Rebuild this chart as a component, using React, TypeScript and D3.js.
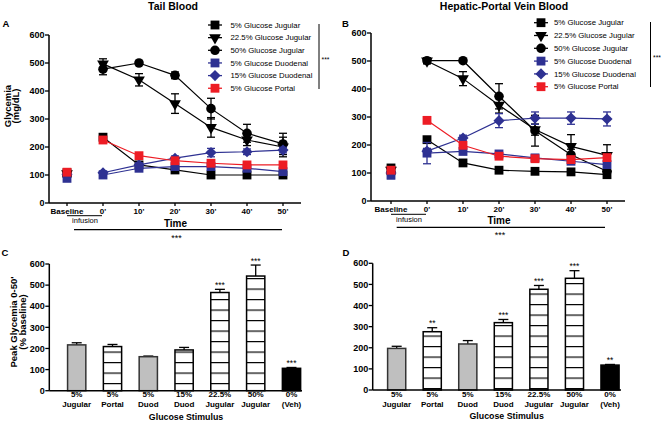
import React from "react";
import * as d3 from "d3";

// ---- data ----
const timePoints = ["Baseline", "0'", "10'", "20'", "30'", "40'", "50'"];
const seriesNames = [
  "5% Glucose Jugular",
  "22.5% Glucose Jugular",
  "50% Glucose Jugular",
  "5% Glucose Duodenal",
  "15% Glucose Duodenal",
  "5% Glucose Portal",
];

// Panel A - tail blood (mg/dL), mean and SEM
const tailJug5 = [108, 235, 136, 118, 100, 100, 100];
const tailJug22 = [105, 497, 440, 355, 270, 225, 200];
const tailJug50 = [97, 478, 500, 456, 337, 249, 211];
const tailDuod5 = [88, 100, 124, 130, 130, 124, 112];
const tailDuod15 = [103, 108, 136, 160, 180, 183, 189];
const tailPortal5 = [110, 225, 169, 151, 142, 136, 136];
const tailJug5Sem = [10, 8, 6, 6, 6, 5, 5];
const tailJug22Sem = [12, 18, 22, 35, 35, 20, 35];
const tailJug50Sem = [10, 20, 5, 12, 37, 32, 38];
const tailDuod5Sem = [10, 6, 8, 8, 8, 8, 8];
const tailDuod15Sem = [8, 6, 8, 8, 15, 10, 10];
const tailPortal5Sem = [10, 12, 10, 8, 8, 8, 8];

// Panel B - hepatic-portal vein blood (mg/dL)
const hpvJug5 = [118, 219, 136, 110, 106, 104, 94];
const hpvJug22 = [110, 500, 437, 342, 255, 195, 163];
const hpvJug50 = [100, 501, 501, 374, 251, 165, 106];
const hpvDuod5 = [92, 171, 177, 168, 154, 142, 130];
const hpvDuod15 = [100, 178, 225, 287, 296, 296, 293];
const hpvPortal5 = [110, 288, 199, 160, 151, 148, 155];
const hpvJug5Sem = [10, 10, 8, 6, 6, 6, 6];
const hpvJug22Sem = [10, 10, 25, 28, 20, 42, 38];
const hpvJug50Sem = [10, 10, 5, 45, 55, 20, 15];
const hpvDuod5Sem = [12, 38, 10, 8, 8, 8, 10];
const hpvDuod15Sem = [10, 10, 10, 25, 22, 22, 25];
const hpvPortal5Sem = [10, 10, 10, 8, 8, 8, 8];

// Panels C/D - peak glycemia (% baseline)
const stimulusTop = ["5%", "5%", "5%", "15%", "22.5%", "50%", "0%"];
const stimulusBottom = ["Jugular", "Portal", "Duod", "Duod", "Jugular", "Jugular", "(Veh)"];
const peakTail = [217, 209, 161, 193, 465, 543, 106];
const peakTailSem = [10, 10, 3, 12, 15, 52, 4];
const peakTailStars = ["", "", "", "", "***", "***", "***"];
const peakHpv = [197, 276, 218, 319, 477, 529, 118];
const peakHpvSem = [10, 19, 16, 15, 18, 36, 3];
const peakHpvStars = ["", "**", "", "***", "***", "***", "**"];

const yTicks = [0, 100, 200, 300, 400, 500, 600];

// ---- styles ----
const FONT = "'Liberation Sans', Arial, Helvetica, sans-serif";
const BLUE = "#2e3192";
const RED = "#ed1c24";
const seriesColors = ["#000", "#000", "#000", BLUE, BLUE, RED];
const seriesSymbols = ["square", "triangle", "circle", "square", "diamond", "square"];
const barKinds = ["gray", "hatch", "gray", "hatch", "hatch", "hatch", "black"];

function symbolD(kind: string) {
  if (kind === "square") return d3.symbol(d3.symbolSquare, 78)()!;
  if (kind === "circle") return d3.symbol(d3.symbolCircle, 72)()!;
  if (kind === "triangle") return d3.symbol(d3.symbolTriangle, 60)()!;
  return d3.symbol(d3.symbolSquare, 62)()!;
}
function symbolRot(kind: string) {
  if (kind === "triangle") return 180;
  if (kind === "diamond") return 45;
  return 0;
}

function Marker({ kind, x, y, color }: any) {
  return (
    <path
      d={symbolD(kind)}
      transform={`translate(${x},${y}) rotate(${symbolRot(kind)})`}
      fill={color}
    />
  );
}

function LinePanel({ p, means, sems }: any) {
  const x = d3.scalePoint<string>().domain(timePoints).range([p.rangeStart, p.rangeEnd]).padding(0.5);
  const y = d3.scaleLinear().domain([0, 600]).range([p.yBottom, p.yTop]);
  const line = d3
    .line<number>()
    .x((_, i) => x(timePoints[i + 1])!)
    .y((d) => y(d));

  return (
    <g fontFamily={FONT}>
      <text x={p.titleX} y={10} textAnchor="middle" fontWeight="bold" fontSize={10.5}>
        {p.title}
      </text>
      <text x={p.letterX} y={27.3} fontWeight="bold" fontSize={9.5}>
        {p.letter}
      </text>
      {p.yLabel && (
        <g fontWeight="bold" fontSize={9.5} textAnchor="middle">
          <text transform={`translate(10.5,106) rotate(-90)`}>Glycemia</text>
          <text transform={`translate(18.5,106) rotate(-90)`}>(mg/dL)</text>
        </g>
      )}

      {/* axes */}
      <line x1={p.axisX} x2={p.axisX} y1={p.yTop} y2={p.yBottom} stroke="#000" strokeWidth={1.5} />
      <line x1={p.axisX} x2={p.rangeEnd} y1={p.yBottom} y2={p.yBottom} stroke="#000" strokeWidth={1.5} />
      {yTicks.map((t) => (
        <g key={t}>
          <line x1={p.axisX - 4} x2={p.axisX} y1={y(t)} y2={y(t)} stroke="#000" strokeWidth={1.3} />
          <text x={p.axisX - 4.5} y={y(t)} dy="0.35em" textAnchor="end" fontSize={9} fontWeight="bold">
            {t}
          </text>
        </g>
      ))}
      {timePoints.map((t) => (
        <g key={t}>
          <line x1={x(t)} x2={x(t)} y1={p.yBottom} y2={p.yBottom + 3} stroke="#000" strokeWidth={1.3} />
          <text x={x(t)} y={p.xLabelY} textAnchor="middle" fontSize={8} fontWeight="bold">
            {t}
          </text>
        </g>
      ))}

      {/* infusion + time annotation */}
      <line x1={x(timePoints[0])} x2={x(timePoints[1])! - 1} y1={p.infY} y2={p.infY} stroke="#000" strokeWidth={1} />
      <text x={(x(timePoints[0])! + x(timePoints[1])!) / 2} y={p.infY + 7.5} textAnchor="middle" fontSize={7.5}>
        infusion
      </text>
      <text x={p.timeX} y={p.timeY} textAnchor="middle" fontSize={10} fontWeight="bold">
        Time
      </text>
      <line x1={p.longX1} x2={p.longX2} y1={p.timeY + 3} y2={p.timeY + 3} stroke="#000" strokeWidth={1.2} />
      <text x={p.timeX + 1} y={p.timeY + 14} textAnchor="middle" fontSize={9}>
        ***
      </text>

      {/* series */}
      {means.map((m: number[], si: number) => {
        const color = seriesColors[si];
        return (
          <g key={si}>
            <path d={line(m.slice(1))!} fill="none" stroke={color} strokeWidth={1.2} />
            {m.map((v, i) => {
              const cx = x(timePoints[i])!;
              const s = sems[si][i];
              return (
                <g key={i} stroke={color} strokeWidth={1.3}>
                  <line x1={cx} x2={cx} y1={y(v - s)} y2={y(v + s)} />
                  <line x1={cx - 4} x2={cx + 4} y1={y(v - s)} y2={y(v - s)} />
                  <line x1={cx - 4} x2={cx + 4} y1={y(v + s)} y2={y(v + s)} />
                </g>
              );
            })}
            {m.map((v, i) => (
              <Marker key={"m" + i} kind={seriesSymbols[si]} x={x(timePoints[i])} y={y(v)} color={color} />
            ))}
          </g>
        );
      })}

      {/* legend */}
      {seriesNames.map((n, i) => {
        const ly = p.legY + i * p.legStep;
        return (
          <g key={n}>
            <line x1={p.legX - 7} x2={p.legX + 7} y1={ly} y2={ly} stroke={seriesColors[i]} strokeWidth={1.3} />
            <Marker kind={seriesSymbols[i]} x={p.legX} y={ly} color={seriesColors[i]} />
            <text x={p.legTextX} y={ly} dy="0.35em" fontSize={7.8}>
              {n}
            </text>
          </g>
        );
      })}
      <line x1={p.sigX} x2={p.sigX} y1={p.sigY1} y2={p.sigY2} stroke="#000" strokeWidth={1} />
      <text x={p.sigX + 2.5} y={p.sigY1 + 38} fontSize={6.8}>
        ***
      </text>
    </g>
  );
}

function BarPanel({ p, values, sems, stars }: any) {
  const x = d3.scaleBand<number>()
    .domain(d3.range(values.length))
    .range([p.rangeStart, p.rangeEnd])
    .paddingInner(0.49)
    .paddingOuter(0.245);
  const y = d3.scaleLinear().domain([0, 600]).range([p.yBottom, p.yTop]);
  const bw = x.bandwidth();
  return (
    <g fontFamily={FONT}>
      <defs>
        <pattern id={p.id} patternUnits="userSpaceOnUse" width={40} height={10.5} y={p.hatchY}>
          <rect width={40} height={10.5} fill="#fff" />
          <line x1={0} x2={40} y1={0} y2={0} stroke="#000" strokeWidth={2.2} />
        </pattern>
      </defs>
      <text x={p.letterX} y={255.7} fontWeight="bold" fontSize={9.5}>
        {p.letter}
      </text>
      {p.yLabel && (
        <g fontWeight="bold" fontSize={9.5} textAnchor="middle">
          <text transform={`translate(16.5,322) rotate(-90)`}>Peak Glycemia 0-50'</text>
          <text transform={`translate(25.5,322) rotate(-90)`}>(% baseline)</text>
        </g>
      )}
      {values.map((v: number, i: number) => {
        const x0 = x(i)!;
        const kind = barKinds[i];
        const fill = kind === "gray" ? "#bfbfbf" : kind === "black" ? "#000" : `url(#${p.id})`;
        const stroke = kind === "gray" ? "#333" : "#000";
        const cx = x0 + bw / 2;
        const top = y(v + sems[i]);
        return (
          <g key={i}>
            <line x1={cx} x2={cx} y1={y(v)} y2={top} stroke="#000" strokeWidth={1.3} />
            <line x1={cx - 5} x2={cx + 5} y1={top} y2={top} stroke="#000" strokeWidth={1.3} />
            <rect x={x0} y={y(v)} width={bw} height={p.yBottom - y(v)} fill={fill} stroke={stroke} strokeWidth={1.5} />
            {stars[i] && (
              <text x={cx} y={top - 1.5} textAnchor="middle" fontSize={8.5}>
                {stars[i]}
              </text>
            )}
            <text x={cx} y={p.lab1Y} textAnchor="middle" fontSize={8} fontWeight="bold">
              {stimulusTop[i]}
            </text>
            <text x={cx} y={p.lab1Y + 10} textAnchor="middle" fontSize={8} fontWeight="bold">
              {stimulusBottom[i]}
            </text>
          </g>
        );
      })}
      <line x1={p.axisX} x2={p.axisX} y1={p.yTop} y2={p.yBottom} stroke="#000" strokeWidth={1.5} />
      <line x1={p.axisX} x2={p.axisEnd} y1={p.yBottom} y2={p.yBottom} stroke="#000" strokeWidth={1.5} />
      {yTicks.map((t) => (
        <g key={t}>
          <line x1={p.axisX - 4} x2={p.axisX} y1={y(t)} y2={y(t)} stroke="#000" strokeWidth={1.3} />
          <text x={p.axisX - 4.5} y={y(t)} dy="0.35em" textAnchor="end" fontSize={9} fontWeight="bold">
            {t}
          </text>
        </g>
      ))}
      <text x={p.stimX} y={p.lab1Y + 22.5} textAnchor="middle" fontSize={8.8} fontWeight="bold">
        Glucose Stimulus
      </text>
    </g>
  );
}

const panelA = {
  title: "Tail Blood", titleX: 173, letter: "A", letterX: 2.5, yLabel: true,
  axisX: 49, rangeStart: 49, rangeEnd: 301, yTop: 35, yBottom: 203, xLabelY: 213.5,
  infY: 215.7, timeX: 175.5, timeY: 226.7, longX1: 74, longX2: 282,
  legX: 215, legTextX: 230.5, legY: 25, legStep: 12.65, sigX: 319, sigY1: 24, sigY2: 89,
};
const panelB = {
  title: "Hepatic-Portal Vein Blood", titleX: 504, letter: "B", letterX: 342, yLabel: false,
  axisX: 371, rangeStart: 373, rangeEnd: 625, yTop: 33, yBottom: 201, xLabelY: 211.7,
  infY: 214.3, timeX: 499, timeY: 224.3, longX1: 396.7, longX2: 605,
  legX: 541, legTextX: 554, legY: 22.7, legStep: 12.8, sigX: 650.5, sigY1: 22, sigY2: 87,
};
const panelC = {
  id: "hatchC", letter: "C", letterX: 1.5, yLabel: true, axisX: 49.3, axisEnd: 302,
  rangeStart: 58.8, rangeEnd: 309.4, yTop: 264, yBottom: 390.7, hatchY: 383, lab1Y: 397, stimX: 186,
};
const panelD = {
  id: "hatchD", letter: "D", letterX: 342.5, yLabel: false, axisX: 372.7, axisEnd: 621,
  rangeStart: 378.9, rangeEnd: 627.8, yTop: 263.3, yBottom: 390, hatchY: 377.5, lab1Y: 396.7, stimX: 506.7,
};

export default function App() {
  return (
    <svg
      width={661}
      height={423}
      style={{ position: "absolute", left: 0, top: 0, background: "#fff" }}
    >
      <rect width={661} height={423} fill="#fff" />
      <LinePanel
        p={panelA}
        means={[tailJug5, tailJug22, tailJug50, tailDuod5, tailDuod15, tailPortal5]}
        sems={[tailJug5Sem, tailJug22Sem, tailJug50Sem, tailDuod5Sem, tailDuod15Sem, tailPortal5Sem]}
      />
      <LinePanel
        p={panelB}
        means={[hpvJug5, hpvJug22, hpvJug50, hpvDuod5, hpvDuod15, hpvPortal5]}
        sems={[hpvJug5Sem, hpvJug22Sem, hpvJug50Sem, hpvDuod5Sem, hpvDuod15Sem, hpvPortal5Sem]}
      />
      <BarPanel p={panelC} values={peakTail} sems={peakTailSem} stars={peakTailStars} />
      <BarPanel p={panelD} values={peakHpv} sems={peakHpvSem} stars={peakHpvStars} />
    </svg>
  );
}
